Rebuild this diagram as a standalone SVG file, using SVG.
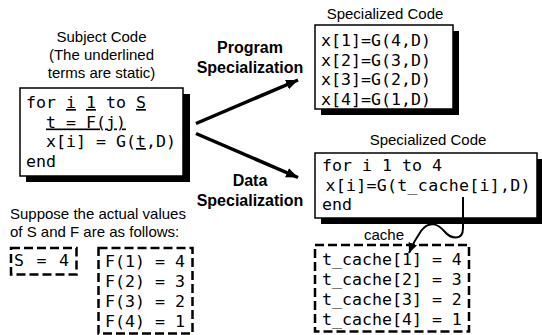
<svg xmlns="http://www.w3.org/2000/svg" width="542" height="335" viewBox="0 0 542 335">
<style>
.lbl{font-family:"Liberation Sans",Arial,sans-serif;font-size:15px;fill:#000}
.bold{font-family:"Liberation Sans",Arial,sans-serif;font-size:16px;font-weight:bold;fill:#000}
.code{font-family:"DejaVu Sans Mono",monospace;font-size:16.6px;fill:#000;white-space:pre}
.u{text-decoration:underline}
.box{fill:#fff;stroke:#000;stroke-width:1.5}
.shadow{fill:#000}
.dash{fill:none;stroke:#000;stroke-width:2.5;stroke-dasharray:9 4}
.arrow{fill:none;stroke:#000;stroke-width:3.5}
.curve{fill:none;stroke:#000;stroke-width:2}
</style>
<defs>
<marker id="ah" markerUnits="userSpaceOnUse" markerWidth="14" markerHeight="10" refX="12" refY="5" orient="auto">
<path d="M0,0 L12,5 L0,10 Z" fill="#000"/>
</marker>
<marker id="ah2" markerUnits="userSpaceOnUse" markerWidth="12" markerHeight="10" refX="10" refY="5" orient="auto">
<path d="M0,0.5 L10,5 L0,9.5 Z" fill="#000"/>
</marker>
</defs>

<g id="subject-code">
<text class="lbl" x="101.5" y="42" text-anchor="middle">Subject Code</text>
<text class="lbl" x="101.5" y="60" text-anchor="middle">(The underlined</text>
<text class="lbl" x="101.5" y="78" text-anchor="middle">terms are static)</text>
<rect class="shadow" x="26" y="94" width="164" height="88"/>
<rect class="box" x="20" y="88" width="163" height="88"/>
<text class="code" x="26" y="108" xml:space="preserve">for <tspan class="u">i</tspan> <tspan class="u">1</tspan> to <tspan class="u">S</tspan></text>
<text class="code" x="26" y="127.5" xml:space="preserve">  <tspan class="u">t = F(j)</tspan></text>
<text class="code" x="26" y="147" xml:space="preserve">  x[i] = G(<tspan class="u">t</tspan>,D)</text>
<text class="code" x="26" y="166.5">end</text>
</g>

<g id="program-specialization-label">
<text class="bold" x="250" y="53" text-anchor="middle">Program</text>
<text class="bold" x="250" y="73" text-anchor="middle">Specialization</text>
</g>

<g id="data-specialization-label">
<text class="bold" x="250" y="186" text-anchor="middle">Data</text>
<text class="bold" x="250" y="206" text-anchor="middle">Specialization</text>
</g>

<g id="specialized-code-1">
<text class="lbl" x="385" y="18.5" text-anchor="middle">Specialized Code</text>
<rect class="shadow" x="321" y="31" width="138" height="84"/>
<rect class="box" x="315" y="25" width="138" height="84"/>
<text class="code" x="321" y="46">x[1]=G(4,D)</text>
<text class="code" x="321" y="65.5">x[2]=G(3,D)</text>
<text class="code" x="321" y="85">x[3]=G(2,D)</text>
<text class="code" x="321" y="104.5">x[4]=G(1,D)</text>
</g>

<g id="specialized-code-2">
<text class="lbl" x="428" y="145" text-anchor="middle">Specialized Code</text>
<rect class="shadow" x="321" y="159" width="222" height="65"/>
<rect class="box" x="315" y="153" width="222" height="65"/>
<text class="code" x="322" y="171">for i 1 to 4</text>
<text class="code" x="325.5" y="190.5" textLength="205" lengthAdjust="spacing">x[i]=G(t_cache[i],D)</text>
<text class="code" x="322" y="210">end</text>
</g>

<g id="suppose-text">
<text class="lbl" x="10" y="219">Suppose the actual values</text>
<text class="lbl" x="10" y="237">of S and F are as follows:</text>
</g>

<g id="s-value">
<rect class="dash" x="11" y="248" width="65.5" height="26.5"/>
<text class="code" x="14" y="265.5" textLength="55" lengthAdjust="spacing" xml:space="preserve">S = 4</text>
</g>

<g id="f-values">
<rect class="dash" x="98.5" y="248" width="94" height="85.5"/>
<text class="code" x="105" y="266.5" xml:space="preserve">F(1) = 4</text>
<text class="code" x="105" y="286.5" xml:space="preserve">F(2) = 3</text>
<text class="code" x="105" y="306.5" xml:space="preserve">F(3) = 2</text>
<text class="code" x="105" y="326.5" xml:space="preserve">F(4) = 1</text>
</g>

<g id="cache">
<text class="lbl" x="384" y="240" text-anchor="middle">cache</text>
<rect class="dash" x="315" y="245" width="154" height="86.5"/>
<text class="code" x="322" y="265" xml:space="preserve">t_cache[1] = 4</text>
<text class="code" x="322" y="285" xml:space="preserve">t_cache[2] = 3</text>
<text class="code" x="322" y="305" xml:space="preserve">t_cache[3] = 2</text>
<text class="code" x="322" y="325" xml:space="preserve">t_cache[4] = 1</text>
</g>

<g id="connectors">
<line class="arrow" x1="196" y1="123.5" x2="298" y2="80" marker-end="url(#ah)"/>
<line class="arrow" x1="196" y1="133.5" x2="298" y2="177.5" marker-end="url(#ah)"/>
<path class="curve" d="M463,197 V228 C463,242 450,238 445,232 C439,225 430,219 421,231 Q414,241 409,253" marker-end="url(#ah2)"/>
</g>
</svg>
